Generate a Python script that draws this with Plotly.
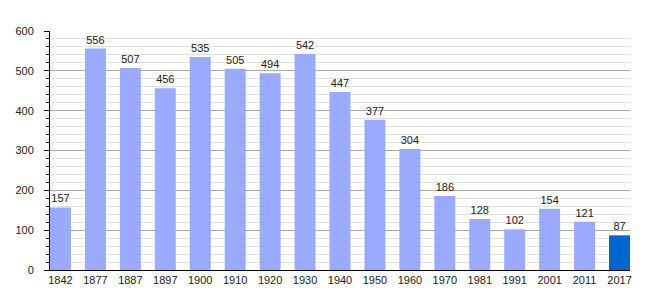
import plotly.graph_objects as go

years = ["1842", "1877", "1887", "1897", "1900", "1910", "1920", "1930", "1940",
         "1950", "1960", "1970", "1981", "1991", "2001", "2011", "2017"]
population = [157, 556, 507, 456, 535, 505, 494, 542, 447, 377, 304, 186, 128, 102, 154, 121, 87]
bar_colors = ["#99AAFF"] * 16 + ["#0066CC"]

x_idx = list(range(len(years)))

fig = go.Figure(go.Bar(
    x=x_idx, y=population, width=0.6,
    marker=dict(color=bar_colors, line=dict(width=0)),
    text=[str(v) for v in population], textposition="outside",
    textfont=dict(family="Liberation Sans, Arial, sans-serif", size=11, color="#222"),
    cliponaxis=False,
))

fig.update_layout(
    width=660, height=300,
    margin=dict(l=50, r=30, t=31, b=30),
    paper_bgcolor="white", plot_bgcolor="white",
    showlegend=False,
    font=dict(family="Liberation Sans, Arial, sans-serif", size=11, color="#222"),
    xaxis=dict(
        tickmode="array", tickvals=x_idx, ticktext=years,
        range=[-0.3, 16.3], showgrid=False, zeroline=False,
        showline=True, linecolor="black", linewidth=1,
        ticks="", ticklen=0, fixedrange=True,
    ),
    yaxis=dict(
        range=[0, 600], dtick=100, tick0=0,
        showgrid=True, gridcolor="#AAAAAA", gridwidth=1,
        showline=True, linecolor="black", linewidth=1,
        ticks="outside", ticklen=5, tickcolor="black",
        zeroline=False, ticklabelstandoff=8,
        minor=dict(dtick=20, showgrid=True, gridcolor="#E2E2E2",
                   ticks="outside", ticklen=3, tickcolor="black"),
    ),
)

fig.write_html("out.html")
